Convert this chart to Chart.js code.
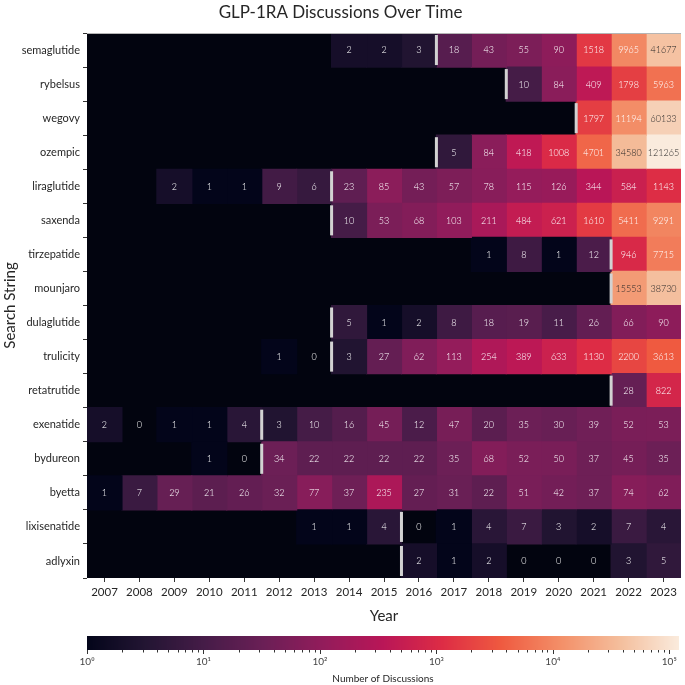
<!DOCTYPE html>
<html>
<head>
<meta charset="utf-8">
<script src="https://cdn.jsdelivr.net/npm/chart.js@4.4.1/dist/chart.umd.min.js"></script>
<style>
  html, body { margin: 0; padding: 0; background: #fff; }
  #wrap { width: 685px; height: 685px; position: relative; }
  #heat-box { position: absolute; left: 0; top: 0; width: 685px; height: 625px; }
  #bar-box { position: absolute; left: 0; top: 625px; width: 685px; height: 60px; }
</style>
</head>
<body>
<div id="wrap">
  <div id="heat-box"><canvas id="heat"></canvas></div>
  <div id="bar-box"><canvas id="cbar"></canvas></div>
</div>
<script>
const years = [2007, 2008, 2009, 2010, 2011, 2012, 2013, 2014, 2015, 2016, 2017, 2018, 2019, 2020, 2021, 2022, 2023];
const terms = ["semaglutide", "rybelsus", "wegovy", "ozempic", "liraglutide", "saxenda", "tirzepatide", "mounjaro",
  "dulaglutide", "trulicity", "retatrutide", "exenatide", "bydureon", "byetta", "lixisenatide", "adlyxin"];

// discussions per year, null = no data
const semaglutide  = [null, null, null, null, null, null, null, 2, 2, 3, 18, 43, 55, 90, 1518, 9965, 41677];
const rybelsus     = [null, null, null, null, null, null, null, null, null, null, null, null, 10, 84, 409, 1798, 5963];
const wegovy       = [null, null, null, null, null, null, null, null, null, null, null, null, null, null, 1797, 11194, 60133];
const ozempic      = [null, null, null, null, null, null, null, null, null, null, 5, 84, 418, 1008, 4701, 34580, 121265];
const liraglutide  = [null, null, 2, 1, 1, 9, 6, 23, 85, 43, 57, 78, 115, 126, 344, 584, 1143];
const saxenda      = [null, null, null, null, null, null, null, 10, 53, 68, 103, 211, 484, 621, 1610, 5411, 9291];
const tirzepatide  = [null, null, null, null, null, null, null, null, null, null, null, 1, 8, 1, 12, 946, 7715];
const mounjaro     = [null, null, null, null, null, null, null, null, null, null, null, null, null, null, null, 15553, 38730];
const dulaglutide  = [null, null, null, null, null, null, null, 5, 1, 2, 8, 18, 19, 11, 26, 66, 90];
const trulicity    = [null, null, null, null, null, 1, 0, 3, 27, 62, 113, 254, 389, 633, 1130, 2200, 3613];
const retatrutide  = [null, null, null, null, null, null, null, null, null, null, null, null, null, null, null, 28, 822];
const exenatide    = [2, 0, 1, 1, 4, 3, 10, 16, 45, 12, 47, 20, 35, 30, 39, 52, 53];
const bydureon     = [null, null, null, 1, 0, 34, 22, 22, 22, 22, 35, 68, 52, 50, 37, 45, 35];
const byetta       = [1, 7, 29, 21, 26, 32, 77, 37, 235, 27, 31, 22, 51, 42, 37, 74, 62];
const lixisenatide = [null, null, null, null, null, null, 1, 1, 4, 0, 1, 4, 7, 3, 2, 7, 4];
const adlyxin      = [null, null, null, null, null, null, null, null, null, 2, 1, 2, 0, 0, 0, 3, 5];

// year each product line starts (white marker), null = none
const launchYear = [2017, 2019, 2021, 2017, 2014, 2014, 2022, 2022, 2014, 2014, 2022, 2012, 2012, null, 2016, 2016];

const counts = [semaglutide, rybelsus, wegovy, ozempic, liraglutide, saxenda, tirzepatide, mounjaro,
  dulaglutide, trulicity, retatrutide, exenatide, bydureon, byetta, lixisenatide, adlyxin];

const FONT = "Lato, 'Open Sans', sans-serif";
Chart.defaults.font.family = FONT;
Chart.defaults.color = "#262626";

const vmax = Math.max(...counts.flat().filter(v => v !== null));

// rocket colormap
const rocketStops = ["#03051A", "#231533", "#461C48", "#6B1F56", "#931C5B", "#B91657",
  "#DD2C45", "#EF5A40", "#F38F68", "#F4BE9C", "#FAEBDD"];
function hexToRgb(h) {
  return [parseInt(h.slice(1, 3), 16), parseInt(h.slice(3, 5), 16), parseInt(h.slice(5, 7), 16)];
}
const stopRgb = rocketStops.map(hexToRgb);
function rocketRgb(t) {
  t = Math.min(1, Math.max(0, t));
  const p = t * (stopRgb.length - 1);
  const i = Math.min(Math.floor(p), stopRgb.length - 2);
  const f = p - i;
  return stopRgb[i].map((c, k) => Math.round(c + (stopRgb[i + 1][k] - c) * f));
}
function rocket(t) {
  const c = rocketRgb(t);
  return `rgb(${c[0]},${c[1]},${c[2]})`;
}
function norm(v) {
  return Math.log10(Math.max(v, 1)) / Math.log10(vmax);
}
function luminance(rgb) {
  const lin = rgb.map(c => {
    c = c / 255;
    return c <= 0.03928 ? c / 12.92 : Math.pow((c + 0.055) / 1.055, 2.4);
  });
  return 0.2126 * lin[0] + 0.7152 * lin[1] + 0.0722 * lin[2];
}

const datasets = years.map((yr, j) => ({
  label: String(yr),
  data: counts.map(row => (row[j] === null ? null : [j - 0.5, j + 0.5])),
  backgroundColor: counts.map(row => (row[j] > 0 ? rocket(norm(row[j])) : "rgba(0,0,0,0)")),
  borderWidth: 0,
  inflateAmount: 0.6,
  barPercentage: 1,
  categoryPercentage: 1,
  grouped: false,
}));

const areaBg = {
  id: "areaBg",
  beforeDatasetsDraw(chart) {
    const { ctx, chartArea: a } = chart;
    ctx.save();
    ctx.fillStyle = "#02040F";
    ctx.fillRect(a.left, a.top, a.right - a.left, a.bottom - a.top);
    ctx.restore();
  },
};

const cellText = {
  id: "cellText",
  afterDatasetsDraw(chart) {
    const { ctx, scales: { x, y }, chartArea: a } = chart;
    ctx.save();
    ctx.font = `300 9px ${FONT}`;
    ctx.textAlign = "center";
    ctx.textBaseline = "middle";
    counts.forEach((row, i) => {
      row.forEach((v, j) => {
        if (v === null) return;
        const light = v > 0 && luminance(rocketRgb(norm(v))) > 0.408;
        ctx.fillStyle = light ? "#262626" : "#ffffff";
        ctx.fillText(String(v), x.getPixelForValue(j), y.getPixelForValue(i) + 0.5);
      });
    });
    // launch markers
    const band = y.getPixelForValue(1) - y.getPixelForValue(0);
    ctx.fillStyle = "#d2d2d2";
    launchYear.forEach((ly, i) => {
      if (ly === null) return;
      const px = x.getPixelForValue(years.indexOf(ly) - 0.5);
      const py = y.getPixelForValue(i);
      ctx.fillRect(px - 1.5, py - band / 2 + 2, 3, band - 4);
    });
    ctx.strokeStyle = "#b5b5b5";
    ctx.lineWidth = 1;
    ctx.beginPath();
    ctx.moveTo(a.left, a.top + 0.5);
    ctx.lineTo(a.right, a.top + 0.5);
    ctx.stroke();
    ctx.restore();
  },
};

new Chart(document.getElementById("heat"), {
  type: "bar",
  data: { labels: terms, datasets },
  options: {
    indexAxis: "y",
    responsive: true,
    maintainAspectRatio: false,
    animation: false,
    layout: { padding: { left: 0, right: 4, top: 0, bottom: 0 } },
    plugins: {
      legend: { display: false },
      tooltip: { enabled: false },
      title: {
        display: true,
        text: "GLP-1RA Discussions Over Time",
        color: "#262626",
        font: { size: 17, weight: "normal" },
        padding: { top: 2, bottom: 10.6 },
      },
    },
    scales: {
      x: {
        type: "linear",
        min: -0.5,
        max: 16.5,
        afterBuildTicks(scale) {
          scale.ticks = years.map((yr, j) => ({ value: j }));
        },
        afterFit(scale) {
          scale.height = 47;
        },
        grid: { drawOnChartArea: false, drawTicks: true, tickLength: 4, tickColor: "#333" },
        border: { display: false },
        ticks: {
          autoSkip: false,
          maxRotation: 0,
          padding: 3,
          font: { size: 11.5 },
          callback: v => years[v],
        },
        title: { display: true, text: "Year", font: { size: 15 }, padding: { top: 4, bottom: 0 } },
      },
      y: {
        type: "category",
        afterFit(scale) {
          scale.width = 87;
        },
        grid: { drawOnChartArea: false, drawTicks: true, tickLength: 4, tickColor: "#333" },
        border: { display: false },
        ticks: { autoSkip: false, padding: 3, font: { size: 11 } },
        title: { display: true, text: "Search String", font: { size: 15 }, padding: { top: 1, bottom: 0 } },
      },
    },
  },
  plugins: [areaBg, cellText],
});

// colour bar
const sup = ["\u2070", "\u00b9", "\u00b2", "\u00b3", "\u2074", "\u2075"];
const cbGradient = {
  id: "cbGradient",
  beforeDatasetsDraw(chart) {
    const { ctx, chartArea: a, scales: { x } } = chart;
    ctx.save();
    for (let px = Math.floor(a.left); px < a.right; px++) {
      ctx.fillStyle = rocket(norm(x.getValueForPixel(px + 0.5)));
      ctx.fillRect(px, a.top, 1, a.bottom - a.top);
    }
    ctx.strokeStyle = "#333";
    ctx.lineWidth = 1;
    ctx.beginPath();
    for (let k = 0; k <= 5; k++) {
      for (let m = 1; m <= 9; m++) {
        const v = m * Math.pow(10, k);
        if (v > vmax) break;
        const px = Math.round(x.getPixelForValue(v)) + 0.5;
        ctx.moveTo(px, a.bottom);
        ctx.lineTo(px, a.bottom + (m === 1 ? 4 : 2.5));
      }
    }
    ctx.stroke();
    ctx.restore();
  },
};

new Chart(document.getElementById("cbar"), {
  type: "scatter",
  data: { datasets: [{ data: [] }] },
  options: {
    responsive: true,
    maintainAspectRatio: false,
    animation: false,
    layout: { padding: { left: 87, right: 4, top: 11, bottom: 0 } },
    plugins: { legend: { display: false }, tooltip: { enabled: false } },
    scales: {
      x: {
        type: "logarithmic",
        min: 1,
        max: vmax,
        afterFit(scale) {
          scale.height = 35;
        },
        grid: { display: false, drawTicks: false },
        border: { display: false },
        ticks: {
          autoSkip: false,
          maxRotation: 0,
          padding: 6,
          font: { size: 10 },
          color: "#444",
          callback: v => {
            const k = Math.log10(v);
            return Math.abs(k - Math.round(k)) < 1e-9 ? "10" + sup[Math.round(k)] : "";
          },
        },
        title: { display: true, text: "Number of Discussions", font: { size: 10 }, padding: { top: 2, bottom: 0 } },
      },
      y: { display: false, min: 0, max: 1 },
    },
  },
  plugins: [cbGradient],
});
</script>
</body>
</html>
